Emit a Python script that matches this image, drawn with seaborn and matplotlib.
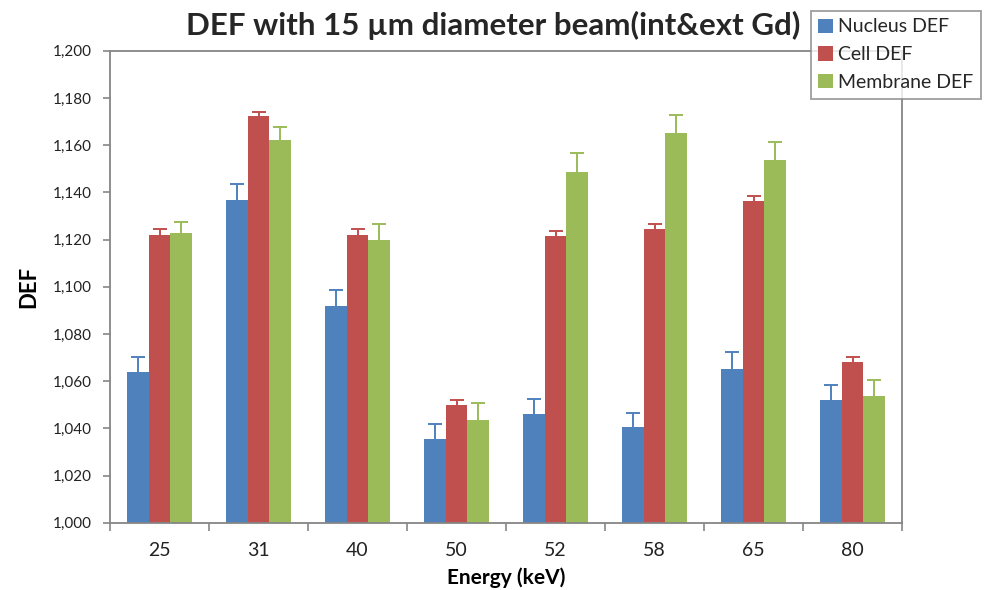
import numpy as np
import pandas as pd
import matplotlib
matplotlib.use("Agg")
import matplotlib.pyplot as plt
import matplotlib.ticker as mticker
from matplotlib.patches import Patch
import seaborn as sns

energies = ["25", "31", "40", "50", "52", "58", "65", "80"]
series_names = ["Nucleus DEF", "Cell DEF", "Membrane DEF"]
nucleus = [1.0640, 1.1369, 1.0920, 1.0355, 1.0462, 1.0404, 1.0651, 1.0521]
cell = [1.1220, 1.1725, 1.1220, 1.0497, 1.1215, 1.1243, 1.1362, 1.0682]
membrane = [1.1226, 1.1623, 1.1198, 1.0434, 1.1486, 1.1653, 1.1538, 1.0538]
nucleus_err = [0.0064, 0.0065, 0.0065, 0.0065, 0.0064, 0.0062, 0.0071, 0.0062]
cell_err = [0.0023, 0.0016, 0.0023, 0.0024, 0.0023, 0.0023, 0.0023, 0.0021]
membrane_err = [0.0047, 0.0052, 0.0069, 0.0073, 0.0082, 0.0075, 0.0076, 0.0065]
colors = ["#4F81BD", "#C0504D", "#9BBB59"]

sns.set_theme(style="white")
plt.rcParams["font.family"] = ["Lato", "DejaVu Sans"]

errors = [nucleus_err, cell_err, membrane_err]
df = pd.DataFrame({
    "Energy": energies * 3,
    "Series": [s for s in series_names for _ in energies],
    "DEF": nucleus + cell + membrane,
})

fig = plt.figure(figsize=(9.93, 5.90), dpi=100)
ax = fig.add_axes([110 / 993, 1 - 522.7 / 590, (902 - 110) / 993, (522.7 - 50.7) / 590])

sns.barplot(data=df, x="Energy", y="DEF", hue="Series", order=energies,
            hue_order=series_names, palette=colors, width=0.66, saturation=1,
            errorbar=None, ax=ax, legend=False, edgecolor="none")

for cont, err, col in zip(ax.containers, errors, colors):
    xs = np.array([b.get_x() + b.get_width() / 2 for b in cont])
    ys = np.array([b.get_height() for b in cont])
    _, caps, _ = ax.errorbar(xs, ys, yerr=[np.zeros(len(err)), err], fmt="none",
                             ecolor=col, elinewidth=1.4, capsize=5, capthick=1.4, zorder=3)
    for cap in caps:
        if np.allclose(cap.get_ydata(), ys):
            cap.set_visible(False)

ax.set_ylim(1.0, 1.2)
ax.set_xlim(-0.5, len(energies) - 0.5)
ax.yaxis.set_major_locator(mticker.MultipleLocator(0.02))
ax.yaxis.set_major_formatter(mticker.FuncFormatter(lambda v, p: f"{v:.3f}".replace(".", ",")))
ax.set_xticks(range(len(energies)))
ax.set_xticklabels(energies)
ax.set_xticks(np.arange(-0.5, len(energies), 1.0), minor=True)
ax.tick_params(axis="x", which="major", length=0, labelsize=14, pad=14, colors="#222222")
ax.tick_params(axis="x", which="minor", length=6, width=1.2, color="#868686", direction="out", bottom=True)
ax.tick_params(axis="y", which="major", length=5, width=1.2, color="#868686", direction="out",
               left=True, labelsize=11, pad=8, labelcolor="#222222")
for s in ax.spines.values():
    s.set_color("#868686")
    s.set_linewidth(1.3)
    s.set_visible(True)

ax.set_ylabel("DEF", fontsize=16, fontweight="bold", labelpad=10, color="black")
ax.set_xlabel("Energy (keV)", fontsize=15, fontweight="bold", labelpad=6, color="black")
fig.text(493 / 993, 1 - 25 / 590, "DEF with 15 \u00b5m diameter beam(int&ext Gd)",
         ha="center", va="center", fontsize=22.5, fontweight="bold")

handles = [Patch(facecolor=c, edgecolor="none") for c in colors]
leg = fig.legend(handles, series_names, loc="upper left",
                 bbox_to_anchor=(810.7 / 993, 1 - 10.7 / 590), bbox_transform=fig.transFigure,
                 fontsize=14, frameon=True, fancybox=False, borderaxespad=0,
                 handlelength=0.75, handleheight=0.75, handletextpad=0.25,
                 labelspacing=0.55, borderpad=0.4)
leg.get_frame().set_edgecolor("#868686")
leg.get_frame().set_linewidth(1.3)

fig.savefig("out.png", dpi=100)
